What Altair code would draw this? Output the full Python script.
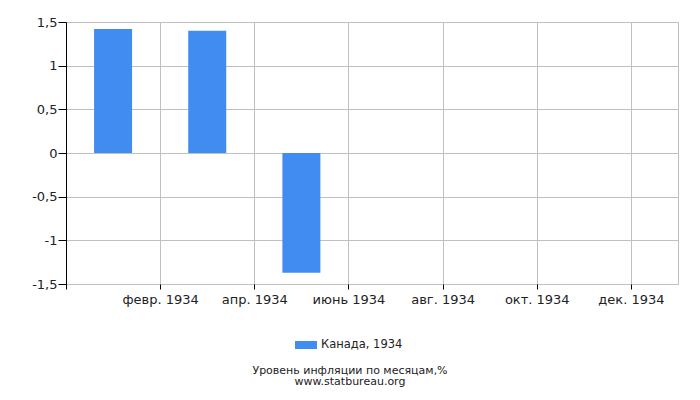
import json
import altair as alt
import pandas as pd

# ---- data ----
month_pos = [1, 3, 5]
month_names = ["янв. 1934", "март 1934", "май 1934"]
values = [1.42, 1.40, -1.37]
series_name = "Канада, 1934"

tick_values = [0, 2, 4, 6, 8, 10, 12]
tick_labels = ["", "февр. 1934", "апр. 1934", "июнь 1934", "авг. 1934", "окт. 1934", "дек. 1934"]
y_ticks = [-1.5, -1, -0.5, 0, 0.5, 1, 1.5]

title_lines = ["Уровень инфляции по месяцам,%", "www.statbureau.org"]

df = pd.DataFrame({"pos": month_pos, "month": month_names, "value": values,
                   "series": [series_name] * len(values)})

FONT = "DejaVu Sans"
label_map = json.dumps(tick_labels, ensure_ascii=False)

chart = alt.Chart(df).mark_bar(size=38).encode(
    x=alt.X("pos:Q",
            scale=alt.Scale(domain=[0, 13], nice=False, zero=False, padding=0),
            axis=alt.Axis(values=tick_values, title=None, domain=False,
                          labelExpr=f"{label_map}[datum.value / 2]",
                          tickColor="#000", tickSize=5, labelPadding=4,
                          gridColor="#c0c0c0", labelFont=FONT, labelFontSize=13,
                          labelColor="#222")),
    y=alt.Y("value:Q",
            scale=alt.Scale(domain=[-1.5, 1.5], nice=False, padding=0),
            axis=alt.Axis(values=y_ticks, title=None, domainColor="#000",
                          labelExpr="replace(toString(datum.value), '.', ',')",
                          tickColor="#000", tickSize=8, labelPadding=1,
                          gridColor="#c0c0c0", labelFont=FONT, labelFontSize=13,
                          labelColor="#222")),
    color=alt.Color("series:N",
                    scale=alt.Scale(range=["#418cf0"]),
                    legend=alt.Legend(title=None, orient="none", legendX=229, legendY=312,
                                      symbolType="M-1,-0.364H1V0.364H-1Z",
                                      symbolSize=484, symbolStrokeWidth=0,
                                      labelFont=FONT, labelFontSize=11.5, labelColor="#222",
                                      padding=0)),
).properties(
    width=612, height=262,
    padding={"left": 58, "top": 14, "right": 14, "bottom": 108},
    autosize=alt.AutoSizeParams(type="none"),
    title=alt.TitleParams(text=title_lines, orient="bottom", anchor="middle",
                          font=FONT, fontSize=11, fontWeight="normal",
                          color="#222", lineHeight=11, offset=14, dx=-22),
).configure_view(stroke="#c0c0c0")

chart.save("out.html", embed_options={"renderer": "svg", "actions": False})
